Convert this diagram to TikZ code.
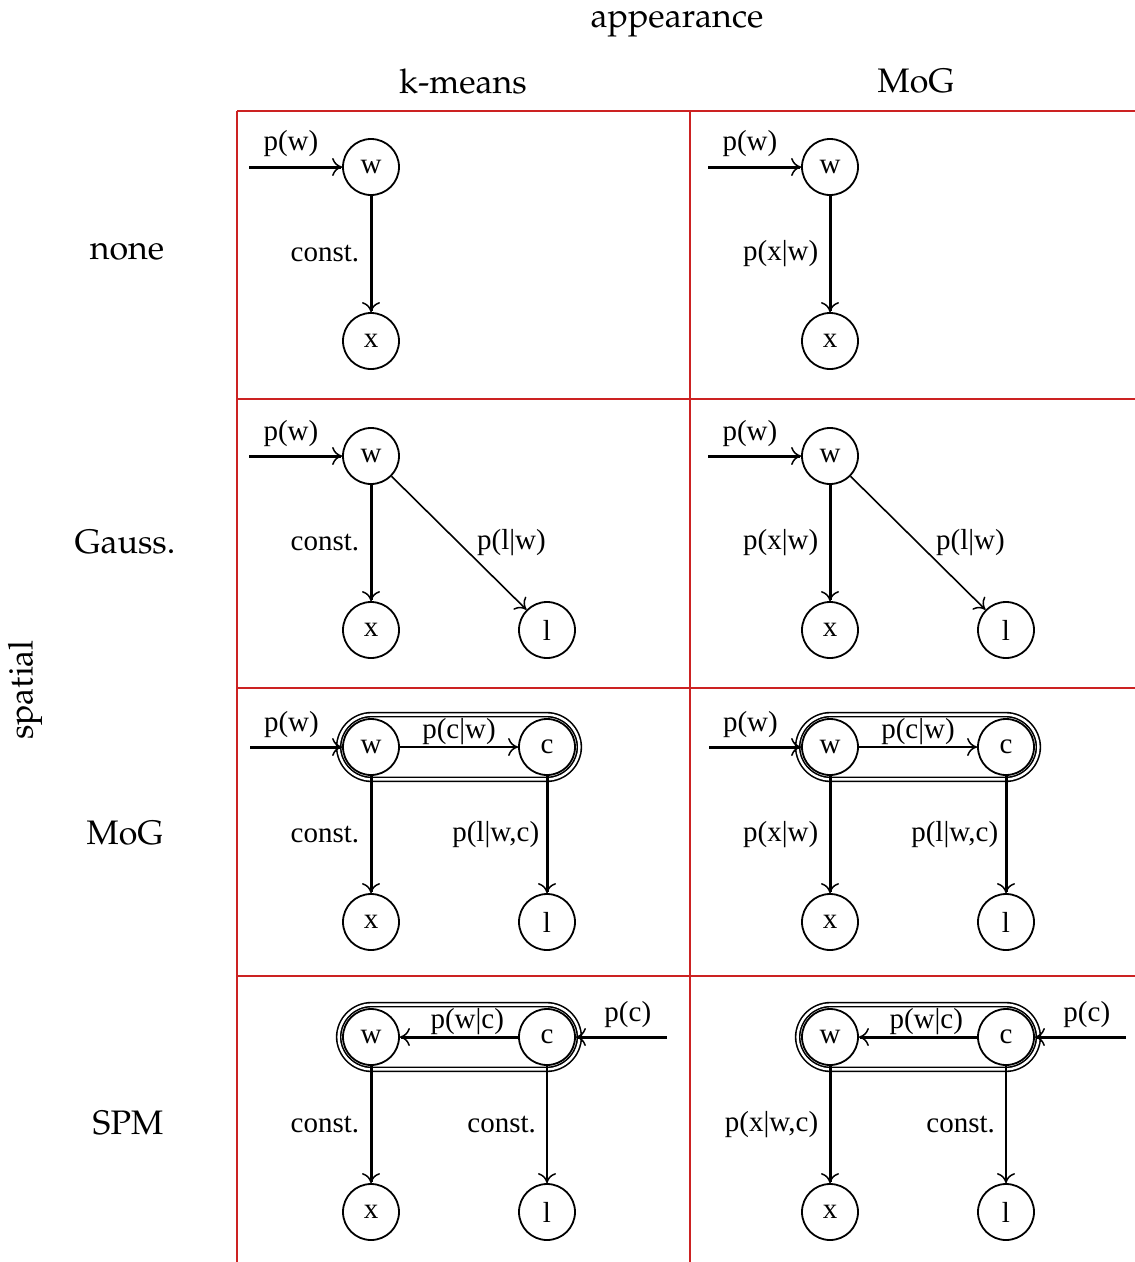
\documentclass[tikz,border=0pt]{standalone}
\usepackage{fontspec}
\setmainfont{Liberation Serif}
\usetikzlibrary{fit,arrows.meta}
\definecolor{gridred}{RGB}{204,34,34}
\newcommand{\hfnt}{\fontencoding{OT1}\fontfamily{ppl}\fontsize{34}{40}\selectfont}

\begin{document}
\begin{tikzpicture}[x=1pt,y=-1pt,
  >={Computer Modern Rightarrow[length=10pt,width=18pt,line width=1.5pt]},
  every node/.style={font=\fontsize{29}{34}\selectfont},
  var/.style={circle, draw, line width=1.8pt, minimum size=56pt, inner sep=0pt},
  grp/.style={draw, double, line width=1.6pt, double distance=2.4pt,
              rounded corners=33pt, inner sep=3.5pt},
  thk/.style={->, line width=3pt},
  thn/.style={->, line width=1.6pt},
  head/.style={font=\hfnt},
  gridline/.style={gridred, line width=1.8pt}]
\useasboundingbox (0,0) rectangle (1135,1262);
% headers
\node[head] (app) at (677,24) {appearance};
\node[head] (kmeans) at (463,81) {k-means};
\node[head] (mog) at (916,81) {MoG};
\node[head] (none) at (127,252) {none};
\node[head] (gauss) at (125,542) {Gauss.};
\node[head] (mogs) at (125,833) {MoG};
\node[head] (spm) at (128,1123) {SPM};
\node[head, rotate=90] (spatial) at (25,690) {spatial};
% table lines
\foreach \y in {111,399,688,976}{
  \draw[gridline] (237,\y) -- (1135,\y);
}
\draw[gridline] (237,111) -- (237,1262);
\draw[gridline] (690,111) -- (690,1262);
% row 1: none
\foreach \c/\dx/\lab in {1/0/const., 2/459/p(x|w)}{
  \node[var] (wa\c) at (371+\dx,167) {w};
  \node[var] (xa\c) at (371+\dx,341) {x};
  \coordinate (sa\c) at (249+\dx,167);
  \draw[thk] (sa\c) -- (wa\c) node[pos=0.45, above=5pt] {p(w)};
  \draw[thk] (wa\c) -- (xa\c) node[midway, left=7pt] {\lab};
}
% row 2: Gauss.
\foreach \c/\dx/\lab in {1/0/const., 2/459/p(x|w)}{
  \node[var] (wb\c) at (371+\dx,456) {w};
  \node[var] (xb\c) at (371+\dx,630) {x};
  \node[var] (lb\c) at (547+\dx,630) {l};
  \coordinate (sb\c) at (249+\dx,456);
  \draw[thk] (sb\c) -- (wb\c) node[pos=0.45, above=5pt] {p(w)};
  \draw[thk] (wb\c) -- (xb\c) node[midway, left=7pt] {\lab};
  \draw[thn] (wb\c) -- (lb\c) node[midway, right=14pt] {p(l|w)};
}
% row 3: MoG
\foreach \c/\dx/\lab in {1/0/const., 2/459/p(x|w)}{
  \node[var] (wc\c) at (371+\dx,747) {w};
  \node[var] (cc\c) at (547+\dx,747) {c};
  \node[var] (xc\c) at (371+\dx,922) {x};
  \node[var] (lc\c) at (547+\dx,922) {l};
  \node[grp, fit=(wc\c)(cc\c)] (gc\c) {};
  \coordinate (sc\c) at (250+\dx,747);
  \draw[thk] (sc\c) -- (wc\c) node[pos=0.45, above=5pt] {p(w)};
  \draw[thn] (wc\c) -- (cc\c) node[midway, above, inner sep=1pt] {p(c|w)};
  \draw[thk] (wc\c) -- (xc\c) node[midway, left=7pt] {\lab};
  \draw[thk] (cc\c) -- (lc\c) node[midway, left=3pt] {p(l|w,c)};
}
% row 4: SPM
\foreach \c/\dx/\lab in {1/0/const., 2/459/{p(x|w,c)}}{
  \node[var] (wd\c) at (371+\dx,1037) {w};
  \node[var] (cd\c) at (547+\dx,1037) {c};
  \node[var] (xd\c) at (371+\dx,1212) {x};
  \node[var] (ld\c) at (547+\dx,1212) {l};
  \node[grp, fit=(wd\c)(cd\c)] (gd\c) {};
  \coordinate (sd\c) at (667+\dx,1037);
  \draw[thk] (sd\c) -- (cd\c) node[pos=0.43, above=5pt] {p(c)};
  \draw[thk] (cd\c) -- (wd\c) node[pos=0.43, above, inner sep=1pt] {p(w|c)};
  \draw[thk] (wd\c) -- (xd\c) node[midway, left=7pt] {\lab};
  \draw[thn] (cd\c) -- (ld\c) node[midway, left=7pt] {const.};
}
\end{tikzpicture}
\end{document}
